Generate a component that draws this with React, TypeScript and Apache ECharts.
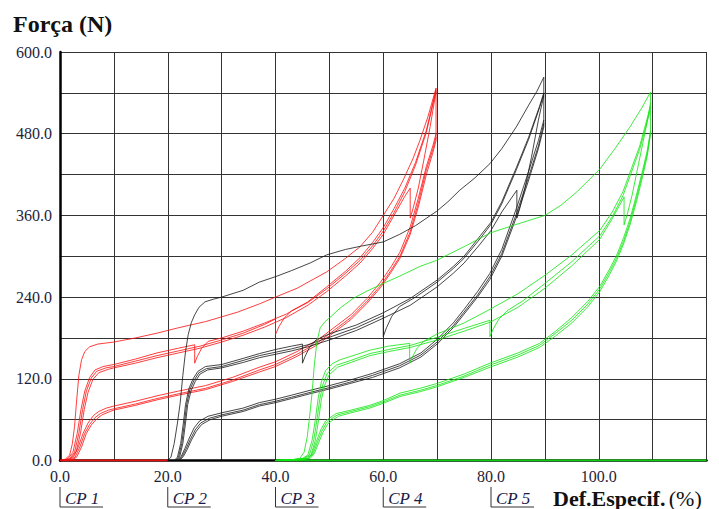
import React, { useEffect, useRef } from "react";
import * as echarts from "echarts";

// Specimen x offsets (each specimen shifted by 20 % strain on the plot)
const OFFSETS = [0, 20, 40];
const COLORS = ["#ff1010", "#1a1a1a", "#10e610"];
const CP_LABELS = ["CP 1", "CP 2", "CP 3", "CP 4", "CP 5"];
const CP_POS = [0, 20, 40, 60, 80];
const X_TICK_LABELS = [0, 20, 40, 60, 80, 100];
const Y_TICK_LABELS = [0, 120, 240, 360, 480, 600];

// ---------- CP 1 (red) : local strain, force ----------
const R_TOP = [[0,0],[1,2],[1.8,8],[2.3,25],[2.7,50],[3.1,89],[3.5,125],[4,148],[4.6,160],[5.5,167],[7,171],[10,174],[14,180],[18,187],[22,195],[27,204],[33,218],[37,230],[40,240],[44,253],[49.5,277],[53,297],[55.7,314],[58,335],[60,360],[62,385],[63.7,412],[65.5,443],[66.8,470],[68.3,505],[69.8,547]];
const R_MID1 = [[0.5,0],[1.5,3],[2.4,12],[3.2,40],[3.9,75],[4.6,102],[5.5,122],[6.5,133],[8,138],[10,141],[14,149],[18,158],[22,165],[25,170],[25,143],[25.5,153],[26.3,165],[27.5,175],[30,180],[34,190],[38,202],[42,215],[46,233],[49.5,255],[53,278],[55.7,298],[58,320],[60,342],[62,370],[64,400],[66,438],[68,485],[69.8,545]];
const R_MID2 = [[0.8,0],[1.8,3],[2.7,12],[3.5,40],[4.2,75],[4.9,102],[5.8,121],[6.8,131],[8.5,136],[10,138],[14,146],[18,154],[22,161],[26,168],[30,177],[34,187],[38,200],[40,208],[40,185],[40.6,196],[41.6,209],[43,220],[46,232],[49.5,252],[53,275],[55.7,294],[58,315],[60,337],[62,364],[64,395],[66,434],[68,482],[69.8,543]];
const R_MID3 = [[1,0],[2,3],[3,13],[3.8,40],[4.5,75],[5.2,100],[6.1,119],[7.2,129],[9,134],[10,136],[14,143],[18,151],[22,158],[26,165],[30,174],[34,184],[38,196],[42,210],[46,228],[49.5,248],[53,271],[55.7,290],[58,311],[60,332],[62,360],[64,388],[65,400],[65,356],[65.6,372],[66.5,400],[67.5,440],[68.7,490],[69.8,542]];
const R_LOW1 = [[1.5,0],[2.5,5],[3.4,20],[4.3,40],[5.2,55],[6.2,66],[7.2,72],[8.6,77],[10,80],[14,87],[18,95],[22,102],[27,110],[32,122],[37,137],[40,145],[44,160],[48,178],[51,196],[54,214],[57,238],[59.5,262],[61.5,285],[63.1,306],[65,343],[66.5,385],[68,432],[69.2,462],[69.8,480]];
const R_LOW2 = [[1.8,0],[2.8,5],[3.7,20],[4.6,40],[5.5,53],[6.5,63],[7.5,69],[9,74],[10,76],[14,83],[18,91],[22,98],[27,106],[32,118],[37,133],[40,141],[44,156],[48,174],[51,192],[54,210],[57,234],[59.5,257],[61.5,280],[63.1,300],[65,336],[66.5,378],[68,427],[69.2,457],[69.8,475]];
const R_LOW3 = [[2.1,0],[3.1,5],[4,20],[4.9,40],[5.8,52],[6.8,61],[7.8,67],[9.3,72],[10,74],[14,81],[18,89],[22,96],[27,104],[32,116],[37,130],[40,138],[44,153],[48,171],[51,189],[54,207],[57,231],[59.5,254],[61.5,277],[63.1,297],[65,332],[66.5,372],[68,420],[69.2,452],[69.8,470]];
const R_VERT = [[69.8,470],[69.8,547]];
const R_BASE = [[0,0],[20,0]];

// ---------- CP 2 (black) ----------
const K_TOP = [[0,0],[0.6,5],[1.2,25],[1.8,55],[2.3,84],[2.8,125],[3.3,160],[3.8,185],[4.4,203],[5,214],[5.8,225],[6.9,233],[8.5,237],[10,240],[14,250],[17,262],[20,270],[23,279],[26.4,290],[29.5,302],[33,310],[36,315],[40,321],[43,332],[46,345],[49.9,366],[52,380],[54.2,397],[57,415],[59.8,436],[62,458],[64.7,490],[67,522],[68.5,542],[69.8,563]];
const K_MID1 = [[1.2,0],[1.8,5],[2.4,25],[2.9,55],[3.3,82],[3.9,105],[4.7,120],[5.6,131],[7,138],[10,141],[14,150],[17,157],[20,163],[23,168],[25,171],[25,143],[25.5,153],[26.3,166],[27.5,177],[30,186],[35,199],[40,217],[45,238],[50,265],[53,285],[55,300],[58,330],[60,350],[62,380],[64.7,430],[67,475],[69,520],[69.8,540]];
const K_MID2 = [[1.4,0],[2,5],[2.6,25],[3.1,55],[3.5,82],[4.1,104],[4.9,118],[5.8,129],[7.2,135],[10,138],[14,147],[17,154],[20,159],[23,164],[26,170],[30,181],[35,195],[40,213],[40,182],[40.6,195],[41.6,212],[43,226],[46,240],[50,262],[53,282],[55,297],[58,326],[60,347],[62,377],[64.7,427],[67,472],[69,518],[69.8,538]];
const K_MID3 = [[1.6,0],[2.2,5],[2.8,25],[3.3,55],[3.7,82],[4.3,102],[5.1,116],[6,127],[7.4,133],[10,136],[14,144],[17,151],[20,156],[23,161],[26,167],[30,177],[35,191],[40,209],[45,228],[50,255],[53,275],[55,290],[58,318],[60,338],[62,365],[64.8,397],[64.8,356],[65.4,372],[66.3,400],[67.5,445],[68.8,500],[69.8,536]];
const K_LOW1 = [[1.8,0],[2.5,6],[3.2,18],[4,33],[4.9,48],[5.9,58],[7.5,65],[10,70],[14,77],[17,85],[20,90],[23,96],[26.4,103],[30,110],[33.8,118],[38,128],[43,142],[47,158],[50,178],[53,202],[55,222],[57.5,248],[59.8,275],[62,310],[64.7,370],[67,425],[68.8,470],[69.8,500]];
const K_LOW2 = [[2,0],[2.7,6],[3.4,17],[4.2,31],[5.1,45],[6.1,55],[7.7,62],[10,67],[14,74],[17,82],[20,87],[23,93],[26.4,100],[30,107],[33.8,115],[38,125],[43,139],[47,155],[50,174],[53,198],[55,218],[57.5,243],[59.8,270],[62,304],[64.7,362],[67,417],[68.8,462],[69.8,495]];
const K_LOW3 = [[2.2,0],[2.9,6],[3.6,16],[4.4,30],[5.3,43],[6.3,53],[7.9,60],[10,65],[14,72],[17,80],[20,85],[23,91],[26.4,98],[30,105],[33.8,113],[38,122],[43,136],[47,152],[50,171],[53,195],[55,215],[57.5,240],[59.8,266],[62,300],[64.7,357],[67,412],[68.8,458],[69.8,490]];
const K_VERT = [[69.8,490],[69.8,563]];

// ---------- CP 3 (green) ----------
const G_TOP = [[0,0],[3,1],[4.5,3],[5.3,12],[5.9,35],[6.4,70],[6.8,100],[7.2,140],[7.7,175],[8.3,195],[9.2,204],[10.1,210],[12,224],[14.4,238],[17,249],[20,260],[23.1,271],[26.8,285],[29.9,294],[35,314],[39.8,334],[44,345],[50,360],[53,375],[56,395],[60.2,428],[63,458],[65.8,490],[68,518],[69.6,541]];
const G_MID1 = [[0,0],[3,1],[5,3],[6,8],[6.8,30],[7.4,60],[7.9,90],[8.5,115],[9.3,132],[10.5,142],[12,148],[14,153],[17.5,162],[21,168],[24.9,172],[24.9,143],[25.4,152],[26.2,164],[27.5,175],[30,186],[35,202],[39.8,222],[45,245],[50,272],[55,302],[60.2,338],[62.5,365],[64.5,395],[67.6,462],[69.6,520]];
const G_MID2 = [[0,0],[3,1],[5.2,3],[6.3,8],[7.1,30],[7.7,60],[8.2,89],[8.8,112],[9.6,128],[11.3,140],[14,147],[17.5,157],[21,163],[25,169],[30,181],[35,194],[39.8,206],[39.8,182],[40.4,193],[41.4,207],[43,220],[46,235],[50,260],[55,292],[60.2,330],[62.5,358],[64.5,389],[67.6,457],[69.6,515]];
const G_MID3 = [[0,0],[3,1],[5.5,3],[6.6,8],[7.4,30],[8,60],[8.5,89],[9.1,110],[9.9,125],[11.5,137],[14,144],[17.5,154],[21,160],[25,166],[30,177],[35,190],[39.8,203],[45,225],[50,253],[55,286],[60.2,325],[62.5,355],[64.7,387],[64.7,346],[65.3,362],[66.2,390],[67.5,440],[68.8,490],[69.6,525]];
const G_LOW1 = [[0,0],[4,1],[6,3],[6.8,10],[7.6,28],[8.4,45],[9.3,58],[10.5,65],[11.3,69],[14,74],[17.5,81],[20,88],[23.1,99],[26.8,106],[29.9,113],[35,127],[39.8,143],[45,158],[49,172],[52,190],[55,210],[58,234],[60.2,256],[62,281],[63.3,301],[64.6,327],[65.8,355],[67,390],[68.2,428],[69,455],[69.6,484]];
const G_LOW2 = [[0,0],[4.2,1],[6.2,3],[7,10],[7.8,27],[8.6,43],[9.5,56],[10.7,63],[11.5,67],[14,72],[17.5,79],[20,86],[23.1,96],[26.8,103],[29.9,110],[35,124],[39.8,140],[45,155],[49,169],[52,187],[55,206],[58,230],[60.2,252],[62,277],[63.3,297],[64.6,322],[65.8,350],[67,385],[68.2,424],[69,451],[69.6,481]];
const G_LOW3 = [[0,0],[4.4,1],[6.4,3],[7.2,10],[8,26],[8.8,41],[9.7,54],[10.9,61],[11.7,65],[14,70],[17.5,77],[20,84],[23.1,94],[26.8,101],[29.9,108],[35,122],[39.8,137],[45,152],[49,166],[52,183],[55,202],[58,226],[60.2,248],[62,273],[63.3,293],[64.6,318],[65.8,346],[67,380],[68.2,419],[69,447],[69.6,478]];
const G_VERT = [[69.6,478],[69.6,541]];
const G_BASE = [[0,0],[80,0]];

const SPECIMENS = [
  [R_TOP, R_MID1, R_MID2, R_MID3, R_LOW1, R_LOW2, R_LOW3, R_VERT, R_BASE],
  [K_TOP, K_MID1, K_MID2, K_MID3, K_LOW1, K_LOW2, K_LOW3, K_VERT],
  [G_TOP, G_MID1, G_MID2, G_MID3, G_LOW1, G_LOW2, G_LOW3, G_VERT, G_BASE],
];

const SERIF = '"Liberation Serif", "DejaVu Serif", serif';

export default function App() {
  const ref = useRef<HTMLDivElement>(null);

  useEffect(() => {
    if (!ref.current) return;
    const chart = echarts.init(ref.current, null, { renderer: "svg" });

    const series: any[] = [];
    SPECIMENS.forEach((curves, i) => {
      curves.forEach((curve, j) => {
        const isBase = curve === R_BASE || curve === G_BASE;
        series.push({
          type: "line",
          name: "CP" + (i + 1) + "_" + j,
          data: curve.map(([x, y]) => [x + OFFSETS[i], y]),
          showSymbol: false,
          symbol: "none",
          silent: true,
          clip: true,
          lineStyle: { color: COLORS[i], width: isBase ? 2 : 0.9, opacity: 0.9 },
          z: 3 + i,
        });
      });
    });

    const option: any = {
      animation: false,
      backgroundColor: "#ffffff",
      grid: { left: 60, top: 52, right: 12.5, bottom: 48.5, outerBoundsMode: "none" },
      xAxis: [
        {
          type: "value",
          min: 0,
          max: 120,
          interval: 10,
          axisLine: { show: true, onZero: false, lineStyle: { color: "#222", width: 1 } },
          axisTick: { show: false },
          splitLine: { show: true, lineStyle: { color: "#333", width: 1 } },
          axisLabel: {
            formatter: (v: number) => (X_TICK_LABELS.includes(v) ? v.toFixed(1) : ""),
            fontFamily: SERIF,
            fontSize: 16,
            color: "#1e1e3a",
            margin: 8,
          },
        },
        {
          type: "value",
          position: "top",
          min: 0,
          max: 120,
          axisLine: { show: true, lineStyle: { color: "#000", width: 2.5 } },
          axisTick: { show: false },
          axisLabel: { show: false },
          splitLine: { show: false },
        },
      ],
      yAxis: [
        {
          type: "value",
          min: 0,
          max: 600,
          interval: 60,
          axisLine: { show: true, onZero: false, lineStyle: { color: "#000", width: 2.5 } },
          axisTick: { show: false },
          splitLine: { show: true, lineStyle: { color: "#333", width: 1 } },
          axisLabel: {
            formatter: (v: number) => (Y_TICK_LABELS.includes(v) ? v.toFixed(1) : ""),
            fontFamily: SERIF,
            fontSize: 16,
            color: "#1e1e3a",
            margin: 8,
          },
        },
      ],
      series,
    };
    chart.setOption(option);

    const graphics: any[] = [
      {
        type: "text",
        x: 13,
        y: 24,
        style: {
          text: "Força (N)",
          font: 'bold 24px "Liberation Serif", serif',
          fill: "#111",
          textVerticalAlign: "middle",
        },
      },
      {
        type: "text",
        x: 553,
        y: 498,
        style: {
          text: "{b|Def.Especif.} {n|(%)}",
          textVerticalAlign: "middle",
          rich: {
            b: { font: 'bold 22px "Liberation Serif", serif', fill: "#111" },
            n: { font: '22px "Liberation Serif", serif', fill: "#111" },
          },
        },
      },
    ];
    CP_POS.forEach((v, i) => {
      const px = chart.convertToPixel({ xAxisIndex: 0 }, v) as number;
      graphics.push({
        type: "polyline",
        shape: { points: [[px, 487], [px, 507], [px + 43, 507]] },
        style: { stroke: "#333", lineWidth: 1, fill: null },
      });
      graphics.push({
        type: "text",
        x: px + 5,
        y: 498,
        style: {
          text: CP_LABELS[i],
          font: 'italic 17px "Liberation Serif", serif',
          fill: "#1a1a48",
          textVerticalAlign: "middle",
        },
      });
    });
    chart.setOption({ graphic: graphics });

    return () => chart.dispose();
  }, []);

  return (
    <div
      ref={ref}
      style={{ position: "fixed", left: 0, top: 0, width: 719, height: 509, background: "#fff" }}
    />
  );
}
